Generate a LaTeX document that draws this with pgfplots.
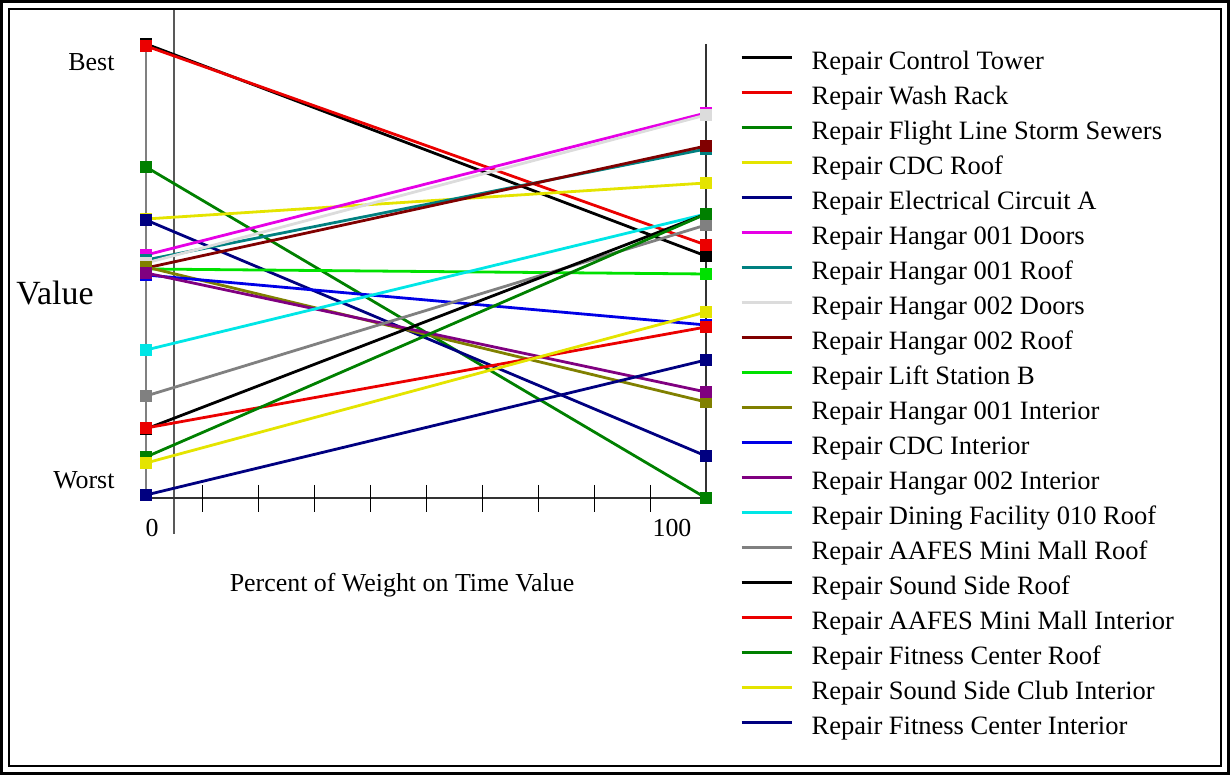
\documentclass[border=0pt]{standalone}
\usepackage{fontspec}
\setmainfont{Liberation Serif}
\usepackage{pgfplots}
\pgfplotsset{compat=1.18}
\definecolor{cRed}{RGB}{235,0,0}
\definecolor{cGreen}{RGB}{0,128,0}
\definecolor{cYellow}{RGB}{228,228,0}
\definecolor{cNavy}{RGB}{0,0,128}
\definecolor{cMagenta}{RGB}{230,0,230}
\definecolor{cTeal}{RGB}{0,128,128}
\definecolor{cLGray}{RGB}{220,220,220}
\definecolor{cMaroon}{RGB}{128,0,0}
\definecolor{cLime}{RGB}{0,225,0}
\definecolor{cOlive}{RGB}{128,128,0}
\definecolor{cBlue}{RGB}{0,0,230}
\definecolor{cPurple}{RGB}{128,0,128}
\definecolor{cCyan}{RGB}{0,230,230}
\definecolor{cGray}{RGB}{128,128,128}
\begin{document}
\begin{tikzpicture}[x=1bp,y=1bp]
\useasboundingbox (0,0) rectangle (1230,775);
\draw[line width=3bp] (1.5,1.5) rectangle (1228.5,773.5);
\draw[line width=2.5bp] (9,9) rectangle (1221,766);
% axis decorations (pixel coordinates: y = 775 - py)
\draw[gray!70!black, line width=1.3bp] (174,765) -- (174,775-534);
\draw[gray, line width=1.5bp] (146,775-44) -- (146,775-498);
\draw[gray!40!black, line width=1.5bp] (706,775-44) -- (706,775-498);
\draw[gray!40!black, line width=1.5bp] (146,775-498) -- (706,775-498);
\foreach \t in {202,258,...,650} \draw[black, line width=1bp] (\t,775-485) -- (\t,775-512);
\node[font=\fontsize{34}{40}\selectfont] at (55,775-293) {Value};
\node[font=\fontsize{26}{30}\selectfont, anchor=east] at (118,775-62) {Best};
\node[font=\fontsize{26}{30}\selectfont, anchor=east] at (118,775-480) {Worst};
\node[font=\fontsize{26}{30}\selectfont] at (152,775-528) {0};
\node[font=\fontsize{26}{30}\selectfont] at (672,775-528) {100};
\node[font=\fontsize{26}{30}\selectfont] at (402,775-585) {Percent of Weight on Time Value};
\begin{axis}[
  at={(146bp,277bp)}, anchor=south west,
  scale only axis, width=560bp, height=454bp,
  xmin=0, xmax=100, ymin=0, ymax=454,
  axis lines=none, clip=false,
  every axis plot/.append style={line width=2.8bp, mark=square*, mark size=4.2bp, mark options={solid}},
  legend cell align=left,
  legend image code/.code={\draw[#1, line width=3bp] (0bp,6bp) -- (50bp,6bp);},
  legend style={at={(1.0607,0.9846)}, anchor=north west, draw=none, fill=none,
    inner sep=0pt, row sep=11bp,
    nodes={inner sep=0pt, text height=18bp, text depth=6bp},
    /tikz/every odd column/.style={column sep=18.5bp},
    font=\fontsize{26.6}{31}\selectfont},
]
\addplot[black] coordinates {(0,454)(100,242)};
\addlegendentry{Repair Control Tower}
\addplot[cRed] coordinates {(0,452)(100,253)};
\addlegendentry{Repair Wash Rack}
\addplot[cGreen] coordinates {(0,331)(100,0)};
\addlegendentry{Repair Flight Line Storm Sewers}
\addplot[cYellow] coordinates {(0,279)(100,315)};
\addlegendentry{Repair CDC Roof}
\addplot[cNavy] coordinates {(0,278)(100,42)};
\addlegendentry{Repair Electrical Circuit A}
\addplot[cMagenta] coordinates {(0,243)(100,385)};
\addlegendentry{Repair Hangar 001 Doors}
\addplot[cTeal] coordinates {(0,238)(100,349)};
\addlegendentry{Repair Hangar 001 Roof}
\addplot[cLGray] coordinates {(0,235)(100,383)};
\addlegendentry{Repair Hangar 002 Doors}
\addplot[cMaroon] coordinates {(0,230)(100,352)};
\addlegendentry{Repair Hangar 002 Roof}
\addplot[cLime] coordinates {(0,229)(100,224)};
\addlegendentry{Repair Lift Station B}
\addplot[cOlive] coordinates {(0,231)(100,96)};
\addlegendentry{Repair Hangar 001 Interior}
\addplot[cBlue] coordinates {(0,223)(100,173)};
\addlegendentry{Repair CDC Interior}
\addplot[cPurple] coordinates {(0,225)(100,106)};
\addlegendentry{Repair Hangar 002 Interior}
\addplot[cCyan] coordinates {(0,148)(100,284)};
\addlegendentry{Repair Dining Facility 010 Roof}
\addplot[cGray] coordinates {(0,102)(100,273)};
\addlegendentry{Repair AAFES Mini Mall Roof}
\addplot[black] coordinates {(0,69)(100,284)};
\addlegendentry{Repair Sound Side Roof}
\addplot[cRed] coordinates {(0,70)(100,171)};
\addlegendentry{Repair AAFES Mini Mall Interior}
\addplot[cGreen] coordinates {(0,41)(100,284)};
\addlegendentry{Repair Fitness Center Roof}
\addplot[cYellow] coordinates {(0,35)(100,186)};
\addlegendentry{Repair Sound Side Club Interior}
\addplot[cNavy] coordinates {(0,3)(100,138)};
\addlegendentry{Repair Fitness Center Interior}
\end{axis}
\end{tikzpicture}
\end{document}
